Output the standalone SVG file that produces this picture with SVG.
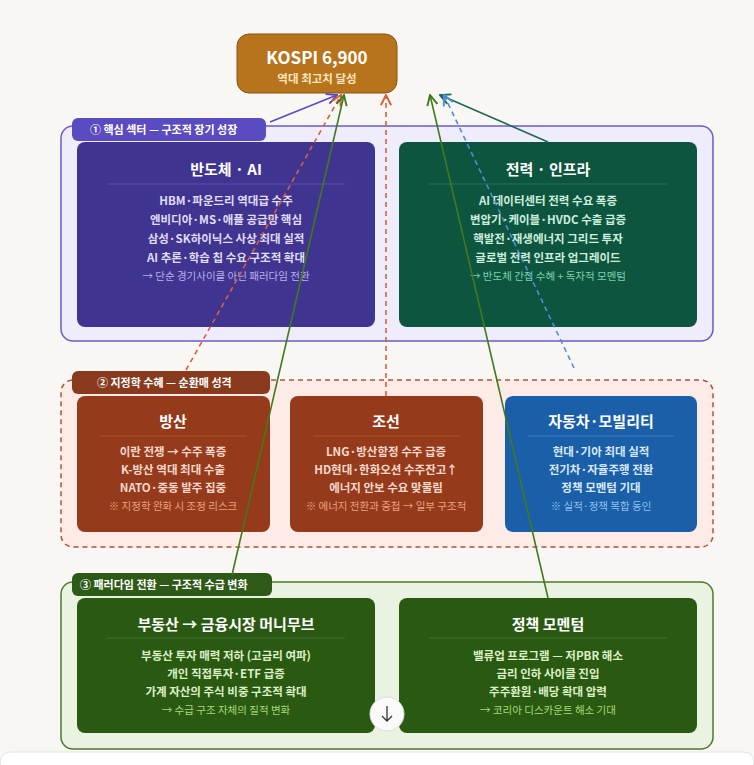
<svg xmlns="http://www.w3.org/2000/svg" width="754" height="765" viewBox="0 0 754 765">
<defs>
<style>
text{font-family:"Noto Sans CJK KR","Noto Sans",sans-serif;text-anchor:middle;font-weight:700}
.t{font-size:15px;fill:#fff}
.l{font-size:11.5px}
.n{font-size:10.5px;font-weight:400}
.tab{font-size:11px;fill:#fff;text-anchor:start}
</style>
<marker id="a" viewBox="0 0 10 10" refX="9" refY="5" markerWidth="8" markerHeight="8" orient="auto"><path d="M1 1L9 5L1 9" fill="none" stroke="context-stroke" stroke-width="1.5"/></marker>
</defs>
<rect width="754" height="765" fill="#f8f7f4"/>
<rect x="0" y="752" width="754" height="20" rx="10" fill="#fff" stroke="#e4e4e4"/>
<g id="g1">
<rect x="61" y="126" width="652" height="215" rx="12" fill="#efedfb" stroke="#6b5bc9" stroke-width="1.5"/>
<rect x="72" y="118" width="194" height="23" rx="6" fill="#5b4bc0"/>
<text class="tab" x="90" y="134">① 핵심 섹터 — 구조적 장기 성장</text>
</g>
<g id="g2">
<rect x="61" y="380" width="652" height="167" rx="12" fill="#fcebe6" stroke="#b5533a" stroke-width="1.5" stroke-dasharray="5 4"/>
<rect x="72" y="371" width="198" height="23" rx="6" fill="#8a3a1c"/>
<text class="tab" x="97" y="387">② 지정학 수혜 — 순환매 성격</text>
</g>
<g id="g3">
<rect x="61" y="582" width="652" height="167" rx="12" fill="#eaf3e2" stroke="#4e7a2e" stroke-width="1.5"/>
<rect x="72" y="573" width="200" height="23" rx="6" fill="#2d5a17"/>
<text class="tab" x="80" y="589">③ 패러다임 전환 — 구조적 수급 변화</text>
</g>
<g id="kospi">
<rect x="237" y="34" width="160" height="59" rx="12" fill="#b8741c" stroke="#8a5510"/>
<text x="317" y="64" style="font-size:17px;fill:#fff">KOSPI 6,900</text>
<text x="317" y="83" style="font-size:11.5px;fill:#fbe6c0">역대 최고치 달성</text>
</g>
<g id="semi">
<rect x="77" y="142" width="298" height="185" rx="8" fill="#3f3591"/>
<text class="t" x="226" y="175">반도체 · AI</text>
<line x1="107" y1="184" x2="345" y2="184" stroke="#5a50a8"/>
<g fill="#e0dcf5" class="l"><text x="226" y="205">HBM·파운드리 역대급 수주</text><text x="226" y="224">엔비디아·MS·애플 공급망 핵심</text><text x="226" y="243">삼성·SK하이닉스 사상 최대 실적</text><text x="226" y="262">AI 추론·학습 칩 수요 구조적 확대</text></g>
<text class="n" x="226" y="280" fill="#b8b0e8">→ 단순 경기사이클 아닌 패러다임 전환</text>
</g>
<g id="power">
<rect x="399" y="142" width="298" height="185" rx="8" fill="#0e5540"/>
<text class="t" x="548" y="175">전력 · 인프라</text>
<line x1="429" y1="184" x2="667" y2="184" stroke="#2a7058"/>
<g fill="#cdeedd" class="l"><text x="548" y="205">AI 데이터센터 전력 수요 폭증</text><text x="548" y="224">변압기·케이블·HVDC 수출 급증</text><text x="548" y="243">핵발전·재생에너지 그리드 투자</text><text x="548" y="262">글로벌 전력 인프라 업그레이드</text></g>
<text class="n" x="548" y="280" fill="#7fd0a8">→ 반도체 간접 수혜 + 독자적 모멘텀</text>
</g>
<g id="defense">
<rect x="77" y="396" width="193" height="136" rx="8" fill="#953b1c"/>
<text class="t" x="173" y="427">방산</text>
<line x1="100" y1="436" x2="247" y2="436" stroke="#b0502e"/>
<g fill="#f5d8cc" class="l"><text x="173" y="456">이란 전쟁 → 수주 폭증</text><text x="173" y="474">K-방산 역대 최대 수출</text><text x="173" y="492">NATO·중동 발주 집중</text></g>
<text class="n" x="173" y="510" fill="#eaa080">※ 지정학 완화 시 조정 리스크</text>
</g>
<g id="ship">
<rect x="290" y="396" width="193" height="136" rx="8" fill="#953b1c"/>
<text class="t" x="386" y="427">조선</text>
<line x1="313" y1="436" x2="460" y2="436" stroke="#b0502e"/>
<g fill="#f5d8cc" class="l"><text x="386" y="456">LNG·방산함정 수주 급증</text><text x="386" y="474">HD현대·한화오션 수주잔고↑</text><text x="386" y="492">에너지 안보 수요 맞물림</text></g>
<text class="n" x="386" y="510" fill="#eaa080">※ 에너지 전환과 중첩 → 일부 구조적</text>
</g>
<g id="auto">
<rect x="505" y="396" width="192" height="136" rx="8" fill="#1a5fa8"/>
<text class="t" x="601" y="427">자동차·모빌리티</text>
<line x1="528" y1="436" x2="674" y2="436" stroke="#3a7cc0"/>
<g fill="#d8e8fa" class="l"><text x="601" y="456">현대·기아 최대 실적</text><text x="601" y="474">전기차·자율주행 전환</text><text x="601" y="492">정책 모멘텀 기대</text></g>
<text class="n" x="601" y="510" fill="#8ec0ee">※ 실적·정책 복합 동인</text>
</g>
<g id="money">
<rect x="77" y="598" width="298" height="135" rx="8" fill="#2a5a12"/>
<text class="t" x="226" y="630">부동산 → 금융시장 머니무브</text>
<line x1="107" y1="638" x2="345" y2="638" stroke="#3f7028"/>
<g fill="#dcefc8" class="l"><text x="226" y="660">부동산 투자 매력 저하 (고금리 여파)</text><text x="226" y="678">개인 직접투자·ETF 급증</text><text x="226" y="696">가계 자산의 주식 비중 구조적 확대</text></g>
<text class="n" x="226" y="714" fill="#a8d878">→ 수급 구조 자체의 질적 변화</text>
</g>
<g id="policy">
<rect x="399" y="598" width="298" height="135" rx="8" fill="#2a5a12"/>
<text class="t" x="548" y="630">정책 모멘텀</text>
<line x1="429" y1="638" x2="667" y2="638" stroke="#3f7028"/>
<g fill="#dcefc8" class="l"><text x="548" y="660">밸류업 프로그램 — 저PBR 해소</text><text x="548" y="678">금리 인하 사이클 진입</text><text x="548" y="696">주주환원·배당 확대 압력</text></g>
<text class="n" x="548" y="714" fill="#a8d878">→ 코리아 디스카운트 해소 기대</text>
</g>
<g id="connectors" fill="none" stroke-width="1.6" marker-end="url(#a)">
<path d="M270 122L337 95" stroke="#5b4bc0"/>
<path d="M548 142L440 95" stroke="#1a6a50"/>
<path d="M186 370L341 95" stroke="#d9603e" stroke-dasharray="5 4"/>
<path d="M386 396L386 95" stroke="#d9603e" stroke-dasharray="5 4"/>
<path d="M574 368L444 95" stroke="#4a8ee0" stroke-dasharray="5 4"/>
<path d="M232 575L344 95" stroke="#3f7a1c"/>
<path d="M548 598L430 95" stroke="#3f7a1c"/>
</g>
<g id="scroll">
<circle cx="387" cy="714" r="17" fill="#fafafa" stroke="#ddd"/>
<path d="M387 706V721M382 716L387 721L392 716" fill="none" stroke="#333" stroke-width="1.3"/>
</g>
</svg>
